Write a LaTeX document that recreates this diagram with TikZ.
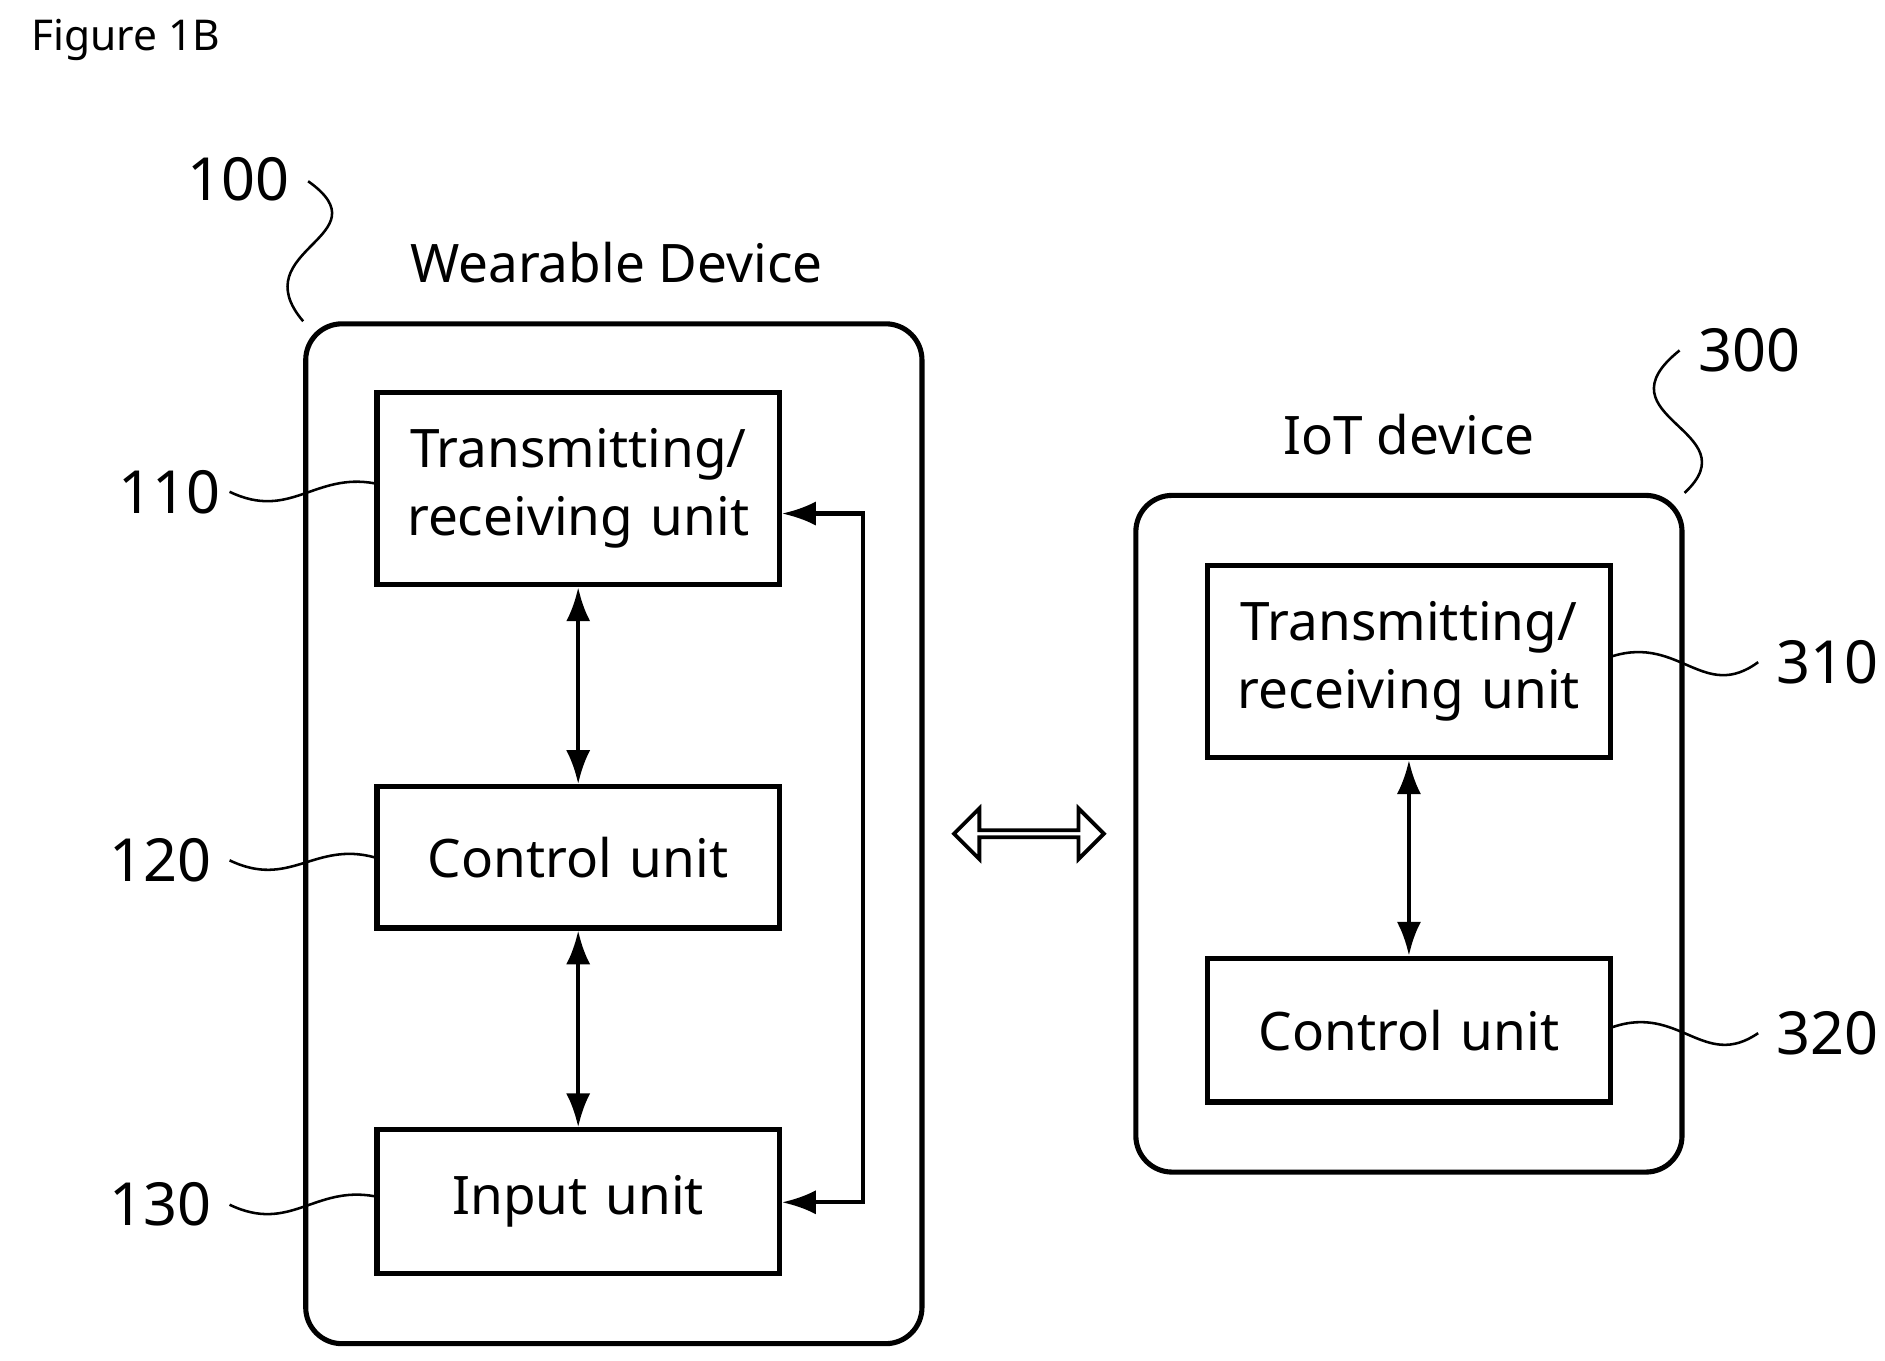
\documentclass[tikz,border=0pt]{standalone}
\usepackage{fontspec}
\setmainfont{Noto Sans}
\usetikzlibrary{shapes.arrows, arrows.meta}
\tikzstyle{device} = [rectangle, rounded corners=0.3cm, draw=black, line width=1.2pt]
\tikzstyle{unit} = [rectangle, minimum width=3.33cm, text width=3.2cm, inner xsep=0pt, align=center, draw=black, line width=1.2pt, font=\fontsize{12.5}{16}\selectfont]
\tikzstyle{arrow} = [line width=1pt, {Latex[length=0.28cm,width=0.2cm]}-{Latex[length=0.28cm,width=0.2cm]}]
\tikzstyle{num} = [font=\fontsize{14}{16}\selectfont]
\tikzstyle{lead} = [line width=0.6pt]
\begin{document}
\begin{tikzpicture}[x=1cm,y=1cm]
	\useasboundingbox (0,0) rectangle (15.6,11.26);
	\node [font=\fontsize{10}{12}\selectfont] (fig) at (1.04,10.93) {Figure 1B};
	% wearable device
	\node (wear) [device, minimum width=5.1cm, minimum height=8.44cm] at (5.08,4.36) {};
	\node (weart) [font=\fontsize{12.5}{16}\selectfont] at (5.10,9.09) {Wearable Device};
	\node (trx1) [unit, minimum height=1.59cm] at (4.785,7.215) {Transmitting/\\receiving unit};
	\node (ctl1) [unit, minimum height=1.17cm] at (4.785,4.165) {Control unit};
	\node (inp) [unit, minimum height=1.19cm] at (4.785,1.315) {Input unit};
	\draw [arrow] (trx1) -- (ctl1);
	\draw [arrow] (ctl1) -- (inp);
	\coordinate (lpa) at (7.14,7.01);
	\coordinate (lpb) at (7.14,1.31);
	\draw [arrow, rounded corners=0pt] (trx1.east |- lpa) -- (lpa) -- (lpb) -- (inp.east |- lpb);
	% iot device
	\node (iot) [device, minimum width=4.52cm, minimum height=5.6cm] at (11.66,4.36) {};
	\node (iott) [font=\fontsize{12.5}{16}\selectfont] at (11.66,7.66) {IoT device};
	\node (trx2) [unit, minimum height=1.59cm] at (11.66,5.785) {Transmitting/\\receiving unit};
	\node (ctl2) [unit, minimum height=1.19cm] at (11.66,2.735) {Control unit};
	\draw [arrow] (trx2) -- (ctl2);
	% link
	\node (link) [double arrow, draw=black, line width=0.9pt, minimum width=0.42cm, minimum height=1.24cm, double arrow head extend=0.1cm, inner sep=0pt] at (8.515,4.36) {};
	% reference numerals
	\node (n100) [num] at (1.97,9.78) {100};
	\draw [lead] (2.55,9.76) .. controls (3.2,9.3) and (2.0,9.2) .. (wear.north west);
	\node (n110) [num] at (1.40,7.19) {110};
	\draw [lead] (1.9,7.19) .. controls (2.4,6.95) and (2.6,7.35) .. (trx1.west |- 0,7.26);
	\node (n120) [num] at (1.33,4.14) {120};
	\draw [lead] (1.9,4.14) .. controls (2.4,3.9) and (2.6,4.3) .. (ctl1.west);
	\node (n130) [num] at (1.33,1.29) {130};
	\draw [lead] (1.9,1.29) .. controls (2.4,1.05) and (2.6,1.45) .. (inp.west |- 0,1.36);
	\node (n300) [num] at (14.48,8.36) {300};
	\draw [lead] (13.9,8.36) .. controls (13.2,7.8) and (14.5,7.7) .. (iot.north east);
	\node (n310) [num] at (15.12,5.78) {310};
	\draw [lead] (trx2.east |- 0,5.83) .. controls (13.9,6.0) and (14.1,5.45) .. (14.55,5.78);
	\node (n320) [num] at (15.12,2.71) {320};
	\draw [lead] (ctl2.east |- 0,2.76) .. controls (13.9,2.95) and (14.1,2.4) .. (14.55,2.71);
\end{tikzpicture}
\end{document}
